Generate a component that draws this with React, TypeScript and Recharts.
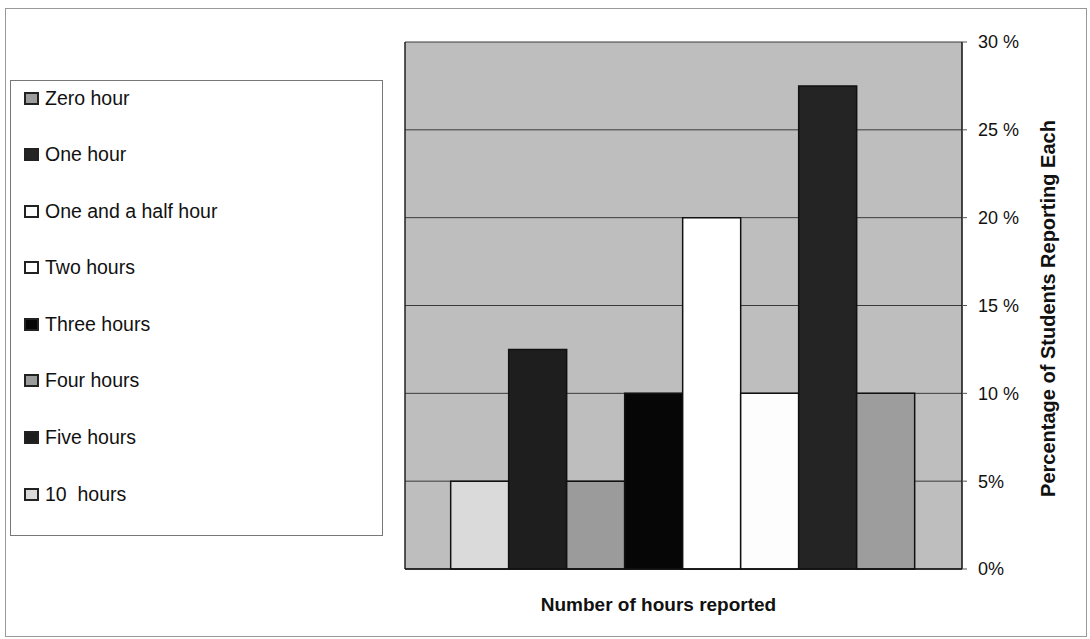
import React from 'react';
import { BarChart, Bar, XAxis, YAxis, CartesianGrid } from 'recharts';

// Series in the order the bars are drawn, left to right
const seriesNames = [
  '10  hours',
  'Five hours',
  'Four hours',
  'Three hours',
  'Two hours',
  'One and a half hour',
  'One hour',
  'Zero hour',
];
const seriesValues = [5, 12.5, 5, 10, 20, 10, 27.5, 10];
const categories = ['Hours'];
const yTicks = [0, 5, 10, 15, 20, 25, 30];

const FILLS: Record<string, string> = {
  '10  hours': '#dadada',
  'Five hours': '#1e1e1e',
  'Four hours': '#9b9b9b',
  'Three hours': '#060606',
  'Two hours': '#ffffff',
  'One and a half hour': '#fdfdfd',
  'One hour': '#242424',
  'Zero hour': '#9d9d9d',
};

const keyOf = (i: number) => `s${i}`;

const data = categories.map((name) => {
  const row: Record<string, string | number> = { name };
  seriesValues.forEach((v, i) => {
    row[keyOf(i)] = v;
  });
  return row;
});

// legend lists the series top to bottom in reverse draw order
const legendOrder = [...seriesNames].reverse();

const FONT = 'Arial, "Liberation Sans", sans-serif';

const LegendBox = () => (
  <div
    style={{
      position: 'absolute',
      left: 10,
      top: 80,
      width: 373,
      height: 456,
      boxSizing: 'border-box',
      border: '1px solid #777',
      background: '#fff',
      paddingTop: 6,
      paddingLeft: 13,
      fontFamily: FONT,
      fontSize: 19.5,
      color: '#111',
    }}
  >
    {legendOrder.map((name) => (
      <div
        key={name}
        style={{ display: 'flex', alignItems: 'center', height: 22, marginBottom: 34.6 }}
      >
        <span
          style={{
            display: 'inline-block',
            width: 15,
            height: 13,
            boxSizing: 'border-box',
            border: '2px solid #222',
            background: FILLS[name],
            marginRight: 6,
          }}
        />
        <span style={{ whiteSpace: 'pre' }}>{name}</span>
      </div>
    ))}
  </div>
);

const YTitle = ({ viewBox }: any) => {
  const x = viewBox.x + 86;
  const y = viewBox.y + viewBox.height / 2 + 3;
  return (
    <text
      x={x}
      y={y}
      transform={`rotate(-90, ${x}, ${y})`}
      textAnchor="middle"
      dominantBaseline="central"
      fontFamily={FONT}
      fontSize={20}
      fontWeight="bold"
      fill="#111"
    >
      Percentage of Students Reporting Each
    </text>
  );
};

const XTitle = ({ viewBox }: any) => (
  <text
    x={viewBox.x + viewBox.width / 2 - 25}
    y={viewBox.y + 42}
    textAnchor="middle"
    fontFamily={FONT}
    fontSize={19}
    fontWeight="bold"
    fill="#111"
  >
    Number of hours reported
  </text>
);

const fmtTick = (v: number) => (v >= 10 ? `${v} %` : `${v}%`);

export default function App() {
  return (
    <div
      style={{
        position: 'absolute',
        left: 0,
        top: 0,
        width: 1090,
        height: 639,
        background: '#fff',
        fontFamily: FONT,
      }}
    >
      <div
        style={{
          position: 'absolute',
          left: 5,
          top: 8,
          width: 1082,
          height: 629,
          border: '1px solid #999',
          boxSizing: 'border-box',
        }}
      />
      <BarChart
        width={1090}
        height={639}
        data={data}
        margin={{ top: 42, right: 0, bottom: 0, left: 404 }}
        barCategoryGap="8.2%"
        barGap={0}
      >
        <CartesianGrid
          vertical={false}
          fill="#bebebe"
          fillOpacity={1}
          stroke="#3a3a3a"
          strokeWidth={1}
        />
        <XAxis
          dataKey="name"
          tick={false}
          tickLine={false}
          height={70}
          axisLine={{ stroke: '#111', strokeWidth: 1.5 }}
          label={<XTitle />}
        />
        <YAxis
          yAxisId="frame"
          orientation="left"
          width={1}
          tick={false}
          tickLine={false}
          axisLine={{ stroke: '#222', strokeWidth: 1.5 }}
        />
        <YAxis
          orientation="right"
          width={128}
          domain={[0, 30]}
          ticks={yTicks}
          interval={0}
          tickFormatter={fmtTick}
          tickSize={5}
          tickMargin={11}
          tickLine={{ stroke: '#555' }}
          axisLine={{ stroke: '#111', strokeWidth: 1.5 }}
          tick={{ fill: '#111', fontSize: 18, fontFamily: FONT }}
          label={<YTitle />}
        />
        {seriesNames.map((name, i) => (
          <Bar
            key={name}
            dataKey={keyOf(i)}
            name={name}
            fill={FILLS[name]}
            stroke="#111"
            strokeWidth={1.5}
            isAnimationActive={false}
          />
        ))}
      </BarChart>
      <LegendBox />
    </div>
  );
}
